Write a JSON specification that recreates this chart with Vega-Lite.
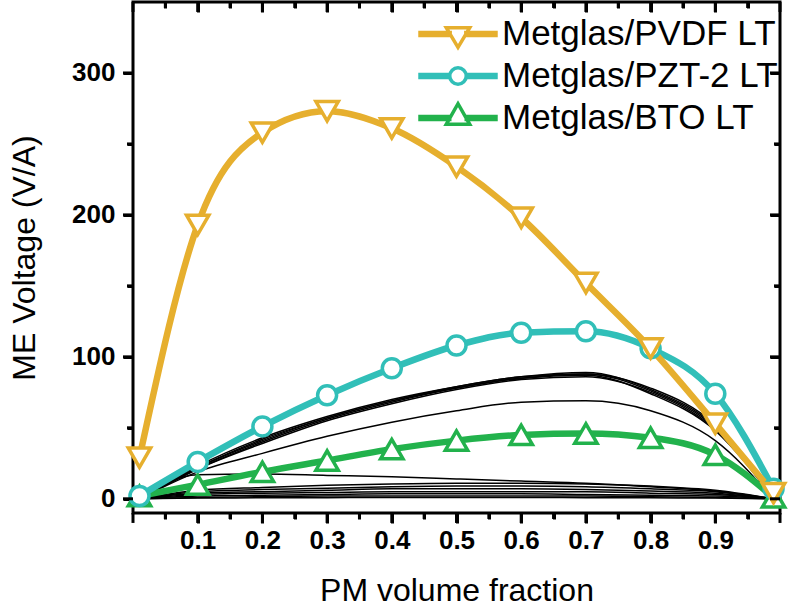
{
  "$schema": "https://vega.github.io/schema/vega-lite/v6.json",
  "width": 647,
  "height": 511,
  "autosize": {"type": "none"},
  "padding": {"left": 133, "top": 2, "right": 17, "bottom": 97},
  "background": "white",
  "config": {
    "view": {"stroke": "black", "strokeWidth": 3},
    "axis": {"grid": false, "domain": false, "ticks": true, "tickColor": "black", "tickWidth": 3, "tickOpacity": 1, "labelColor": "black", "titleColor": "black", "labelFont": "Liberation Sans", "titleFont": "Liberation Sans", "labelFlush": false}
  },
  "datasets": {
    "xMajor": [{"v": 0}, {"v": 0.1}, {"v": 0.2}, {"v": 0.3}, {"v": 0.4}, {"v": 0.5}, {"v": 0.6}, {"v": 0.7}, {"v": 0.8}, {"v": 0.9}, {"v": 1.0}],
    "xMinor": [{"v": 0.05}, {"v": 0.15}, {"v": 0.25}, {"v": 0.35}, {"v": 0.45}, {"v": 0.55}, {"v": 0.65}, {"v": 0.75}, {"v": 0.85}, {"v": 0.95}],
    "yMajor": [{"v": 0}, {"v": 100}, {"v": 200}, {"v": 300}],
    "yMinor": [{"v": 50}, {"v": 150}, {"v": 250}],
    "blackLower": [
      {"c": "L1", "x": 0.01, "y": 0}, {"c": "L1", "x": 0.1, "y": 17}, {"c": "L1", "x": 0.2, "y": 17.5}, {"c": "L1", "x": 0.3, "y": 16.5}, {"c": "L1", "x": 0.4, "y": 15.5}, {"c": "L1", "x": 0.5, "y": 14}, {"c": "L1", "x": 0.6, "y": 12.5}, {"c": "L1", "x": 0.7, "y": 11}, {"c": "L1", "x": 0.8, "y": 8.5}, {"c": "L1", "x": 0.9, "y": 5.5}, {"c": "L1", "x": 0.99, "y": 0},
      {"c": "L2", "x": 0.01, "y": 0}, {"c": "L2", "x": 0.1, "y": 6}, {"c": "L2", "x": 0.2, "y": 8}, {"c": "L2", "x": 0.3, "y": 9.5}, {"c": "L2", "x": 0.4, "y": 10.5}, {"c": "L2", "x": 0.5, "y": 11}, {"c": "L2", "x": 0.6, "y": 11}, {"c": "L2", "x": 0.7, "y": 10.5}, {"c": "L2", "x": 0.8, "y": 9}, {"c": "L2", "x": 0.9, "y": 6}, {"c": "L2", "x": 0.99, "y": 0},
      {"c": "L3", "x": 0.01, "y": 0}, {"c": "L3", "x": 0.1, "y": 5}, {"c": "L3", "x": 0.2, "y": 6.5}, {"c": "L3", "x": 0.3, "y": 7.5}, {"c": "L3", "x": 0.4, "y": 8.5}, {"c": "L3", "x": 0.5, "y": 9}, {"c": "L3", "x": 0.6, "y": 9}, {"c": "L3", "x": 0.7, "y": 8.5}, {"c": "L3", "x": 0.8, "y": 7}, {"c": "L3", "x": 0.9, "y": 5}, {"c": "L3", "x": 0.99, "y": 0},
      {"c": "L4", "x": 0.01, "y": 0}, {"c": "L4", "x": 0.1, "y": 4}, {"c": "L4", "x": 0.2, "y": 5}, {"c": "L4", "x": 0.3, "y": 6}, {"c": "L4", "x": 0.4, "y": 7}, {"c": "L4", "x": 0.5, "y": 7}, {"c": "L4", "x": 0.6, "y": 7}, {"c": "L4", "x": 0.7, "y": 6.5}, {"c": "L4", "x": 0.8, "y": 5.5}, {"c": "L4", "x": 0.9, "y": 4}, {"c": "L4", "x": 0.99, "y": 0},
      {"c": "L5", "x": 0.01, "y": 0}, {"c": "L5", "x": 0.1, "y": 3}, {"c": "L5", "x": 0.2, "y": 4}, {"c": "L5", "x": 0.3, "y": 4.5}, {"c": "L5", "x": 0.4, "y": 5}, {"c": "L5", "x": 0.5, "y": 5}, {"c": "L5", "x": 0.6, "y": 5}, {"c": "L5", "x": 0.7, "y": 5}, {"c": "L5", "x": 0.8, "y": 4}, {"c": "L5", "x": 0.9, "y": 3}, {"c": "L5", "x": 0.99, "y": 0},
      {"c": "L6", "x": 0.01, "y": 0}, {"c": "L6", "x": 0.1, "y": 2}, {"c": "L6", "x": 0.2, "y": 2.5}, {"c": "L6", "x": 0.3, "y": 3}, {"c": "L6", "x": 0.4, "y": 3.5}, {"c": "L6", "x": 0.5, "y": 3.5}, {"c": "L6", "x": 0.6, "y": 3.5}, {"c": "L6", "x": 0.7, "y": 3}, {"c": "L6", "x": 0.8, "y": 2.5}, {"c": "L6", "x": 0.9, "y": 2}, {"c": "L6", "x": 0.99, "y": 0},
      {"c": "L7", "x": 0.01, "y": 0}, {"c": "L7", "x": 0.1, "y": 1}, {"c": "L7", "x": 0.2, "y": 1.5}, {"c": "L7", "x": 0.3, "y": 2}, {"c": "L7", "x": 0.4, "y": 2}, {"c": "L7", "x": 0.5, "y": 2}, {"c": "L7", "x": 0.6, "y": 2}, {"c": "L7", "x": 0.7, "y": 2}, {"c": "L7", "x": 0.8, "y": 1.5}, {"c": "L7", "x": 0.9, "y": 1}, {"c": "L7", "x": 0.99, "y": 0},
      {"c": "L8", "x": 0.01, "y": 0}, {"c": "L8", "x": 0.1, "y": 0.5}, {"c": "L8", "x": 0.2, "y": 0.7}, {"c": "L8", "x": 0.3, "y": 0.8}, {"c": "L8", "x": 0.4, "y": 0.9}, {"c": "L8", "x": 0.5, "y": 0.9}, {"c": "L8", "x": 0.6, "y": 0.9}, {"c": "L8", "x": 0.7, "y": 0.8}, {"c": "L8", "x": 0.8, "y": 0.7}, {"c": "L8", "x": 0.9, "y": 0.5}, {"c": "L8", "x": 0.99, "y": 0}
    ],
    "blackUpper": [
      {"c": "U1", "x": 0.01, "y": 0}, {"c": "U1", "x": 0.1, "y": 23}, {"c": "U1", "x": 0.2, "y": 43}, {"c": "U1", "x": 0.3, "y": 58}, {"c": "U1", "x": 0.4, "y": 70}, {"c": "U1", "x": 0.5, "y": 79}, {"c": "U1", "x": 0.6, "y": 86}, {"c": "U1", "x": 0.7, "y": 89}, {"c": "U1", "x": 0.8, "y": 77}, {"c": "U1", "x": 0.9, "y": 51}, {"c": "U1", "x": 0.99, "y": 0},
      {"c": "U2", "x": 0.01, "y": 0}, {"c": "U2", "x": 0.1, "y": 22}, {"c": "U2", "x": 0.2, "y": 41}, {"c": "U2", "x": 0.3, "y": 57}, {"c": "U2", "x": 0.4, "y": 69}, {"c": "U2", "x": 0.5, "y": 78}, {"c": "U2", "x": 0.6, "y": 85}, {"c": "U2", "x": 0.7, "y": 88}, {"c": "U2", "x": 0.8, "y": 76}, {"c": "U2", "x": 0.9, "y": 50}, {"c": "U2", "x": 0.99, "y": 0},
      {"c": "U3", "x": 0.01, "y": 0}, {"c": "U3", "x": 0.1, "y": 21}, {"c": "U3", "x": 0.2, "y": 40}, {"c": "U3", "x": 0.3, "y": 56}, {"c": "U3", "x": 0.4, "y": 68}, {"c": "U3", "x": 0.5, "y": 78}, {"c": "U3", "x": 0.6, "y": 85}, {"c": "U3", "x": 0.7, "y": 87}, {"c": "U3", "x": 0.8, "y": 74}, {"c": "U3", "x": 0.9, "y": 48}, {"c": "U3", "x": 0.99, "y": 0},
      {"c": "U4", "x": 0.01, "y": 0}, {"c": "U4", "x": 0.1, "y": 22}, {"c": "U4", "x": 0.2, "y": 42}, {"c": "U4", "x": 0.3, "y": 57}, {"c": "U4", "x": 0.4, "y": 69}, {"c": "U4", "x": 0.5, "y": 79}, {"c": "U4", "x": 0.6, "y": 86}, {"c": "U4", "x": 0.7, "y": 88}, {"c": "U4", "x": 0.8, "y": 78}, {"c": "U4", "x": 0.9, "y": 52}, {"c": "U4", "x": 0.99, "y": 0},
      {"c": "U5", "x": 0.01, "y": 0}, {"c": "U5", "x": 0.1, "y": 21}, {"c": "U5", "x": 0.2, "y": 39}, {"c": "U5", "x": 0.3, "y": 55}, {"c": "U5", "x": 0.4, "y": 67}, {"c": "U5", "x": 0.5, "y": 77}, {"c": "U5", "x": 0.6, "y": 84}, {"c": "U5", "x": 0.7, "y": 86}, {"c": "U5", "x": 0.8, "y": 75}, {"c": "U5", "x": 0.9, "y": 49}, {"c": "U5", "x": 0.99, "y": 0},
      {"c": "M1", "x": 0.01, "y": 0}, {"c": "M1", "x": 0.1, "y": 19}, {"c": "M1", "x": 0.2, "y": 32}, {"c": "M1", "x": 0.3, "y": 44}, {"c": "M1", "x": 0.4, "y": 54}, {"c": "M1", "x": 0.5, "y": 62}, {"c": "M1", "x": 0.6, "y": 68}, {"c": "M1", "x": 0.7, "y": 69}, {"c": "M1", "x": 0.8, "y": 62}, {"c": "M1", "x": 0.9, "y": 41}, {"c": "M1", "x": 0.99, "y": 0}
    ],
    "series": [
      {"s": "Metglas/BTO LT", "x": 0.01, "y": 2}, {"s": "Metglas/BTO LT", "x": 0.1, "y": 10}, {"s": "Metglas/BTO LT", "x": 0.2, "y": 19}, {"s": "Metglas/BTO LT", "x": 0.3, "y": 27}, {"s": "Metglas/BTO LT", "x": 0.4, "y": 35}, {"s": "Metglas/BTO LT", "x": 0.5, "y": 41}, {"s": "Metglas/BTO LT", "x": 0.6, "y": 45}, {"s": "Metglas/BTO LT", "x": 0.7, "y": 46}, {"s": "Metglas/BTO LT", "x": 0.8, "y": 43}, {"s": "Metglas/BTO LT", "x": 0.9, "y": 31}, {"s": "Metglas/BTO LT", "x": 0.99, "y": 1},
      {"s": "Metglas/PZT-2 LT", "x": 0.01, "y": 2}, {"s": "Metglas/PZT-2 LT", "x": 0.1, "y": 26}, {"s": "Metglas/PZT-2 LT", "x": 0.2, "y": 51}, {"s": "Metglas/PZT-2 LT", "x": 0.3, "y": 73}, {"s": "Metglas/PZT-2 LT", "x": 0.4, "y": 92}, {"s": "Metglas/PZT-2 LT", "x": 0.5, "y": 108}, {"s": "Metglas/PZT-2 LT", "x": 0.6, "y": 117}, {"s": "Metglas/PZT-2 LT", "x": 0.7, "y": 118}, {"s": "Metglas/PZT-2 LT", "x": 0.8, "y": 106}, {"s": "Metglas/PZT-2 LT", "x": 0.9, "y": 74}, {"s": "Metglas/PZT-2 LT", "x": 0.99, "y": 7},
      {"s": "Metglas/PVDF LT", "x": 0.01, "y": 29}, {"s": "Metglas/PVDF LT", "x": 0.1, "y": 193}, {"s": "Metglas/PVDF LT", "x": 0.2, "y": 258}, {"s": "Metglas/PVDF LT", "x": 0.3, "y": 273}, {"s": "Metglas/PVDF LT", "x": 0.4, "y": 261}, {"s": "Metglas/PVDF LT", "x": 0.5, "y": 234}, {"s": "Metglas/PVDF LT", "x": 0.6, "y": 198}, {"s": "Metglas/PVDF LT", "x": 0.7, "y": 152}, {"s": "Metglas/PVDF LT", "x": 0.8, "y": 106}, {"s": "Metglas/PVDF LT", "x": 0.9, "y": 53}, {"s": "Metglas/PVDF LT", "x": 0.99, "y": 4}
    ]
  },
  "resolve": {"axis": {"x": "independent", "y": "independent"}},
  "layer": [
    {
      "data": {"name": "series"},
      "mark": {"type": "point", "filled": false, "fill": "white", "strokeWidth": 3.5, "opacity": 0},
      "encoding": {
        "x": {"field": "x", "type": "quantitative", "scale": {"domain": [0.00773, 0.99227], "nice": false, "zero": false, "padding": 5}, "axis": null},
        "y": {"field": "y", "type": "quantitative", "scale": {"domain": [-6.478, 346.478], "nice": false, "zero": false, "padding": 5}, "axis": null},
        "color": {"field": "s", "type": "nominal",
                  "scale": {"domain": ["Metglas/PVDF LT", "Metglas/PZT-2 LT", "Metglas/BTO LT"], "range": ["#E6AF2E", "#31BFB8", "#22B24C"]},
                  "legend": {"title": null, "orient": "none", "legendX": 285, "legendY": 13,
                    "labelFont": "Liberation Sans", "labelFontSize": 35, "labelColor": "black", "labelLimit": 500,
                    "symbolSize": 1156, "symbolOffset": 21, "symbolStrokeWidth": 3.5, "symbolOpacity": 1, "labelOffset": 25, "rowPadding": 2}},
        "shape": {"field": "s", "type": "nominal",
                  "scale": {"domain": ["Metglas/PVDF LT", "Metglas/PZT-2 LT", "Metglas/BTO LT"],
                            "range": [
                              "M-2.235,-0.088H-0.46V0.088H-2.235Z M0.46,-0.088H2.235V0.088H0.46Z M-0.69,-0.37L0.69,-0.37L0,0.79Z",
                              "M-2.235,-0.088H-0.485V0.088H-2.235Z M0.485,-0.088H2.235V0.088H0.485Z M-0.485,0A0.485,0.485 0 1,0 0.485,0A0.485,0.485 0 1,0 -0.485,0Z",
                              "M-2.235,-0.088H-0.486V0.088H-2.235Z M0.486,-0.088H2.235V0.088H0.486Z M-0.69,0.37L0.69,0.37L0,-0.84Z"
                            ]},
                  "legend": {"title": null, "orient": "none", "legendX": 285, "legendY": 13,
                    "labelFont": "Liberation Sans", "labelFontSize": 35, "labelColor": "black", "labelLimit": 500,
                    "symbolSize": 1156, "symbolOffset": 21, "symbolStrokeWidth": 3.5, "symbolOpacity": 1, "labelOffset": 25, "rowPadding": 2}}
      }
    },
    {
      "data": {"name": "blackLower"},
      "mark": {"type": "line", "color": "black", "strokeWidth": 1.5, "interpolate": "monotone"},
      "encoding": {
        "x": {"field": "x", "type": "quantitative",
              "axis": {"orient": "top", "values": [0.05, 0.15, 0.25, 0.35, 0.45, 0.55, 0.65, 0.75, 0.85, 0.95], "ticks": true, "tickColor": "black", "tickWidth": 3, "tickSize": -6, "labels": false, "title": null}},
        "y": {"field": "y", "type": "quantitative",
              "axis": {"orient": "right", "values": [50, 150, 250], "ticks": true, "tickColor": "black", "tickWidth": 3, "tickSize": -6, "labels": false, "title": null}},
        "detail": {"field": "c"}
      }
    },
    {
      "data": {"name": "blackUpper"},
      "mark": {"type": "line", "color": "black", "strokeWidth": 1.5, "interpolate": "monotone"},
      "encoding": {
        "x": {"field": "x", "type": "quantitative",
              "axis": {"orient": "bottom", "values": [0, 0.1, 0.2, 0.3, 0.4, 0.5, 0.6, 0.7, 0.8, 0.9, 1.0], "format": ".1f", "ticks": true, "tickColor": "black", "tickWidth": 3, "tickSize": 10, "labelFontSize": 26, "labelFontWeight": "bold", "labelPadding": 4, "labelFlush": false, "title": "PM volume fraction", "titleFontSize": 32, "titleFontWeight": "normal", "titlePadding": 22}},
        "y": {"field": "y", "type": "quantitative",
              "axis": {"orient": "left", "values": [0, 100, 200, 300], "ticks": true, "tickColor": "black", "tickWidth": 3, "tickSize": 10, "labelFontSize": 26, "labelFontWeight": "bold", "labelPadding": 8, "title": "ME Voltage (V/A)", "titleFontSize": 32, "titleFontWeight": "normal", "titlePadding": 30}},
        "detail": {"field": "c"}
      }
    },
    {
      "data": {"name": "series"},
      "mark": {"type": "line", "strokeWidth": 6.5, "interpolate": "monotone"},
      "encoding": {
        "x": {"field": "x", "type": "quantitative",
              "axis": {"orient": "top", "values": [0, 0.1, 0.2, 0.3, 0.4, 0.5, 0.6, 0.7, 0.8, 0.9, 1.0], "ticks": true, "tickColor": "black", "tickWidth": 3, "tickSize": -10, "labels": false, "title": null}},
        "y": {"field": "y", "type": "quantitative",
              "axis": {"orient": "right", "values": [0, 100, 200, 300], "ticks": true, "tickColor": "black", "tickWidth": 3, "tickSize": -10, "labels": false, "title": null}},
        "color": {"field": "s", "type": "nominal", "legend": null}
      }
    },
    {
      "data": {"name": "series"},
      "transform": [{"filter": "datum.s === 'Metglas/BTO LT'"}],
      "mark": {"type": "point", "shape": "triangle-up", "size": 500, "filled": true, "fill": "white", "stroke": "#22B24C", "strokeWidth": 3.5, "opacity": 1},
      "encoding": {
        "x": {"field": "x", "type": "quantitative",
              "axis": {"orient": "bottom", "values": [0.05, 0.15, 0.25, 0.35, 0.45, 0.55, 0.65, 0.75, 0.85, 0.95], "ticks": true, "tickColor": "black", "tickWidth": 3, "tickSize": 6, "labels": false, "title": null}},
        "y": {"field": "y", "type": "quantitative",
              "axis": {"orient": "left", "values": [50, 150, 250], "ticks": true, "tickColor": "black", "tickWidth": 3, "tickSize": 6, "labels": false, "title": null}}
      }
    },
    {
      "data": {"name": "series"},
      "transform": [{"filter": "datum.s === 'Metglas/PZT-2 LT'"}],
      "mark": {"type": "point", "shape": "circle", "size": 361, "filled": true, "fill": "white", "stroke": "#31BFB8", "strokeWidth": 3.5, "opacity": 1},
      "encoding": {
        "x": {"field": "x", "type": "quantitative", "axis": null},
        "y": {"field": "y", "type": "quantitative", "axis": null}
      }
    },
    {
      "data": {"name": "series"},
      "transform": [{"filter": "datum.s === 'Metglas/PVDF LT'"}],
      "mark": {"type": "point", "shape": "triangle-down", "size": 500, "filled": true, "fill": "white", "stroke": "#E6AF2E", "strokeWidth": 3.5, "opacity": 1},
      "encoding": {
        "x": {"field": "x", "type": "quantitative", "axis": null},
        "y": {"field": "y", "type": "quantitative", "axis": null}
      }
    },
    {
      "data": {"name": "xMajor"},
      "mark": {"type": "bar", "orient": "vertical", "color": "black", "opacity": 1, "size": 3, "clip": false},
      "encoding": {"x": {"field": "v", "type": "quantitative", "axis": null}, "y": {"datum": -10, "type": "quantitative", "axis": null}, "y2": {"datum": -17}}
    },
    {
      "data": {"name": "xMajor"},
      "mark": {"type": "bar", "orient": "vertical", "color": "black", "opacity": 1, "size": 3, "clip": false},
      "encoding": {"x": {"field": "v", "type": "quantitative", "axis": null}, "y": {"datum": 350, "type": "quantitative", "axis": null}, "y2": {"datum": 343}}
    },
    {
      "data": {"name": "xMinor"},
      "mark": {"type": "bar", "orient": "vertical", "color": "black", "opacity": 1, "size": 3, "clip": false},
      "encoding": {"x": {"field": "v", "type": "quantitative", "axis": null}, "y": {"datum": -10, "type": "quantitative", "axis": null}, "y2": {"datum": -14.2}}
    },
    {
      "data": {"name": "xMinor"},
      "mark": {"type": "bar", "orient": "vertical", "color": "black", "opacity": 1, "size": 3, "clip": false},
      "encoding": {"x": {"field": "v", "type": "quantitative", "axis": null}, "y": {"datum": 350, "type": "quantitative", "axis": null}, "y2": {"datum": 345.8}}
    },
    {
      "data": {"name": "yMajor"},
      "mark": {"type": "bar", "orient": "horizontal", "color": "black", "opacity": 1, "size": 3, "clip": false},
      "encoding": {"y": {"field": "v", "type": "quantitative", "axis": null}, "x": {"datum": 0, "type": "quantitative", "axis": null}, "x2": {"datum": -0.0155}}
    },
    {
      "data": {"name": "yMajor"},
      "mark": {"type": "bar", "orient": "horizontal", "color": "black", "opacity": 1, "size": 3, "clip": false},
      "encoding": {"y": {"field": "v", "type": "quantitative", "axis": null}, "x": {"datum": 1, "type": "quantitative", "axis": null}, "x2": {"datum": 0.9845}}
    },
    {
      "data": {"name": "yMinor"},
      "mark": {"type": "bar", "orient": "horizontal", "color": "black", "opacity": 1, "size": 3, "clip": false},
      "encoding": {"y": {"field": "v", "type": "quantitative", "axis": null}, "x": {"datum": 0, "type": "quantitative", "axis": null}, "x2": {"datum": -0.0093}}
    },
    {
      "data": {"name": "yMinor"},
      "mark": {"type": "bar", "orient": "horizontal", "color": "black", "opacity": 1, "size": 3, "clip": false},
      "encoding": {"y": {"field": "v", "type": "quantitative", "axis": null}, "x": {"datum": 1, "type": "quantitative", "axis": null}, "x2": {"datum": 0.9907}}
    }
  ]
}
